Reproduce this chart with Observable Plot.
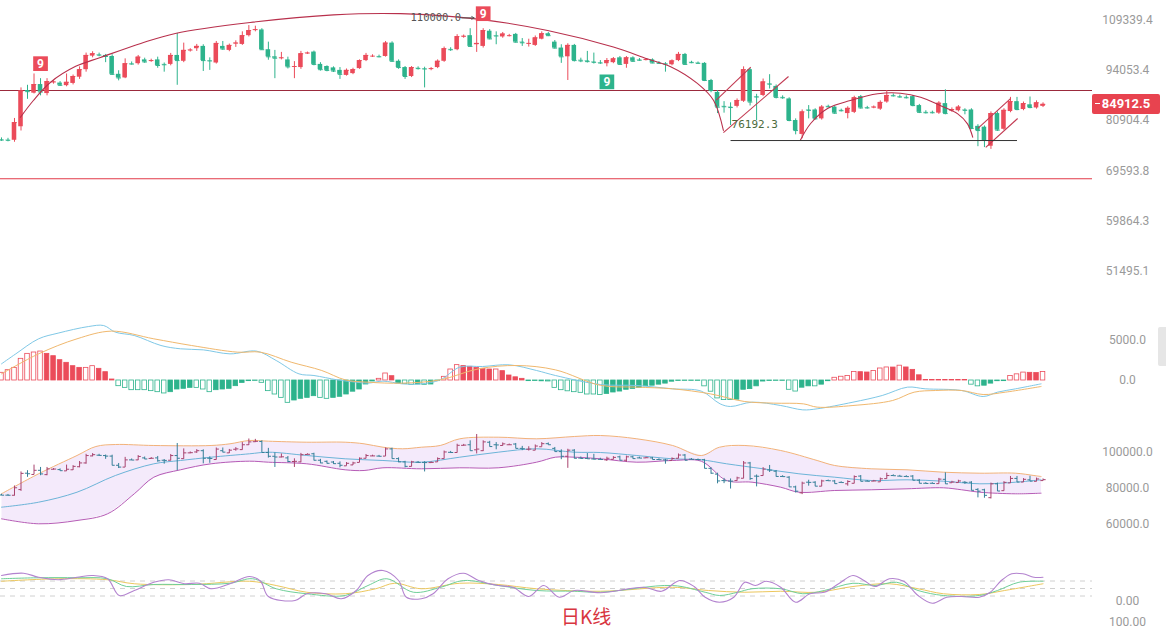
<!DOCTYPE html>
<html><head><meta charset="utf-8">
<script src="https://cdn.jsdelivr.net/npm/d3@7"></script>
<script src="https://cdn.jsdelivr.net/npm/@observablehq/plot@0.6"></script>
<style>
body{margin:0;background:#fff;}
#wrap{position:relative;width:1166px;height:636px;overflow:hidden;background:#fff;font-family:Roboto,"Noto Sans",sans-serif;}
.panel{position:absolute;left:0;}
#badge{position:absolute;left:1092px;width:68px;height:20px;background:#e8434f;color:#fff;font:bold 13px Roboto,sans-serif;line-height:20px;text-align:center;border-radius:2px;}
#badge span.d{position:absolute;left:3px;top:9px;width:5px;height:1.5px;background:#fff;}
#title{position:absolute;left:561px;top:602px;font:19px "Noto Sans CJK SC",sans-serif;color:#d8363f;}
#tab{position:absolute;left:1158px;top:327px;width:8px;height:39px;background:#e6e6e6;border-radius:2px 0 0 2px;}
</style></head><body><div id="wrap"></div>
<script>
// ===== Candles (daily) =====
const opens=[76400,76300,76250,79400,88500,87800,90100,87700,90700,90500,
89800,90400,92100,94200,98100,98500,98300,98000,92900,91900,
95900,95900,97000,96700,97000,95700,95700,98300,96600,99800,
100300,101000,96800,96100,101000,99800,101800,101600,104300,106000,
106100,100000,97900,97500,97000,95000,94800,98900,99300,95700,
95100,94700,94000,92600,93100,94500,96800,98100,98000,98000,
102000,96600,94800,92300,94600,94500,94400,94800,96600,100100,
100000,104000,104300,101500,101000,105700,104300,103900,104300,104700,
102300,101800,101300,103200,104900,102300,100500,97900,101300,96900,
96700,96400,96200,95900,96200,97600,95700,97600,97000,97000,
97000,96100,95900,95600,96800,98600,96300,96100,96000,91200,
88000,84400,84200,84400,85700,94200,86900,87200,90300,89600,
86700,86300,80900,77600,83500,83500,81300,84400,84200,83400,
82600,82900,86900,84100,84100,83700,85500,87200,86900,86700,
86900,84600,82900,82900,82700,85100,83200,83300,83500,83500,
79500,79300,74900,82600,78800,83100,85600,83600,84800,84000,84400];
const highs=[76800,76700,81400,89200,89900,93000,91700,91700,91100,90900,
93000,92700,95000,99000,99400,99000,98600,98500,93900,97300,
96400,98300,97500,97200,97800,96100,98900,105000,102000,100300,
101600,101500,97600,102500,102500,101700,102700,105500,107500,107300,
106500,102300,99800,99200,97800,96500,99500,99300,99600,96200,
95300,95000,94800,94400,94600,97000,98900,98500,98400,102500,
102400,97000,95100,95100,95000,94900,94800,97000,100800,100600,
104600,104500,106500,110000,106500,106200,105500,105300,104700,105000,
103400,103200,104200,105500,105300,102800,101500,101800,101600,97500,
99500,99000,96800,97400,97700,98000,98000,97900,97400,97400,
97300,96500,96200,97000,99200,98900,96600,96400,96200,91500,
88500,85600,85300,86300,95000,94500,87500,91600,92800,90000,
87100,86600,81300,83500,84600,83800,84600,84700,84500,83700,
84300,87000,87200,84400,84500,85800,88500,87600,87300,87100,
87200,84900,83300,83200,85600,88700,84000,84600,83800,83800,
79900,79600,83000,83000,83800,86700,86700,85500,86800,85800,85300];
const lows=[76000,75900,75800,78400,86200,87600,87100,87100,90200,89600,
89500,90000,91500,93500,97600,97900,96200,92600,91100,91700,
95500,95500,96000,96300,94600,93500,95300,89900,96200,99300,
99500,93700,94000,95800,99800,99400,100700,101300,103900,105500,
99800,96900,91700,97000,94400,91700,94300,98600,95300,93800,
93600,93400,91500,92400,92800,94300,96500,97700,97600,97800,
96300,94300,91500,92000,94100,89200,93900,94500,96300,99500,
99700,103500,100700,99200,100500,103000,101500,103500,103900,102000,
101000,100800,101000,103000,104000,100200,96000,91200,96400,96200,
96100,95800,95700,95000,95900,95400,94600,96300,96600,96700,
95900,95700,93500,95300,96500,95400,95900,95800,90900,87900,
82600,82700,79700,84000,85400,84500,80900,86900,88900,86300,
86200,80600,77500,76600,81300,81000,81000,84000,82400,83000,
81300,82600,83700,83700,83800,83400,85200,86800,86500,86300,
84300,82600,82500,82500,82400,82300,82900,83000,82300,78700,
74800,74600,74200,78300,78500,82800,83300,83300,83800,83700,84100];
const closes=[76300,76250,80400,88400,88200,90100,88100,90900,90800,89900,
90700,92300,94200,98300,98800,98400,98000,92900,91900,95900,
95800,97800,96400,96800,95400,95600,98300,96800,99800,99900,
101000,96800,96700,101900,100200,101300,102000,104300,105900,106200,
100000,97900,97500,97600,95000,95100,98800,99000,95700,94200,
94000,93800,92900,94000,94200,96800,98300,98100,97900,102000,
96600,94800,92300,94800,94500,94400,94500,96600,100300,100000,
104000,104100,101000,101900,105900,103300,104200,104800,104300,102300,
102100,101900,103600,104900,104300,100500,97900,101300,96800,96700,
96500,96300,96100,96800,97300,95700,97600,96600,96900,97100,
96100,96000,95800,96700,98600,95700,96200,96000,91200,88500,
84200,84300,84100,85900,94200,85500,86800,90800,90200,86700,
86600,80900,78500,83000,83400,81300,84200,84300,82700,83300,
83900,86600,84000,84000,84200,85400,87200,87100,86800,86600,
84600,82900,82800,82800,85200,82600,83600,84200,83400,79000,
78500,76200,82600,78600,83400,85600,83600,85100,84100,85300,84912.5];

// main axis ticks
const mainTicks=[109339.4,94053.4,80904.4,69593.8,59864.3,51495.1];
// horizontal reference lines (price)
const topLinePrice=88510, lowLinePrice=67950;
// support line & label
const supportPrice=76192.3, supportFrom=112, supportTo=156;
// high marker
const highIdx=73, highLabel=110000.0;
// TD "9" badges
const redNineIdx=[6,74], greenNineIdx=[93];
// big arc (index, price)
const arc1I=[2.9,4.9,7.5,11.4,15.2,21.4,26.7,38.2,51.0,61.3,73.6,83.9,94.0,99.2,102.8,106.9,109.4,110.9];
const arc1P=[81650,85900,90660,95140,97700,101900,105000,108490,111000,111400,109500,105930,100800,97330,95050,90400,85900,78520];
const arc2I=[122.7,124.3,126.9,130.4,134.6,138.1,141.2,144.2,146.9,148.4,149.2];
const arc2P=[76200,80180,83870,85900,87640,87800,86760,84620,82530,80100,76960];
// channel segments [i1,p1,i2,p2]
const chanI1=[109.8,110.9,150.0,151.2], chanP1=[86000,78000,79000,74630];
const chanI2=[115.1,120.9,155.0,156.1], chanP2=[94900,92300,86400,81390];

// ===== MACD =====
const macdHist=[960,1290,1580,2710,3330,3500,3620,3330,3040,2540,
2210,1790,1580,1580,1790,1460,1040,125,-710,-920,
-1210,-1210,-1210,-1330,-1460,-1620,-1460,-1125,-1040,-920,
-920,-1125,-1460,-1210,-1125,-1040,-710,-300,-80,-40,
-290,-1330,-1750,-2170,-2790,-2500,-2290,-2170,-1960,-2170,
-2290,-2170,-2040,-1750,-1400,-1125,-500,-125,210,875,
540,-375,-450,-540,-500,-540,-500,-80,460,1375,
1920,1800,1710,1580,1460,1375,1375,1170,625,400,
210,-80,-60,-100,-120,-920,-1210,-1350,-1460,-1540,
-1750,-1750,-1810,-1680,-1500,-1380,-1160,-1050,-950,-730,
-650,-520,-390,-150,-60,-60,-60,-60,-730,-1400,
-2240,-2450,-2450,-2400,-1160,-1075,-730,-130,-60,-60,
-60,-1160,-1380,-900,-730,-730,-520,-90,340,470,
560,1075,1040,1000,1200,1500,1630,1620,1850,1630,
1330,650,60,60,60,60,60,60,60,-520,
-730,-650,-390,-90,-80,560,770,990,960,930,1075];
const difI=[0,2.2,5.7,8.7,13.4,15.7,17.5,20.4,24.5,27.5,31,35.1,39.2,42.2,45.7,48,51.6,54.5,56.3,58.6,61.6,64.5,67.4,70.4,73.9,78,82.2,85.1,92,97.6,103.1,107.5,110.4,112,115.3,119.7,123.1,125.3,130.8,135.3,139.2,141.9,147.5,150.8,153,155.8,159.7];
const difV=[2080,3330,5210,5920,6750,6870,6040,5625,4375,3960,3830,3330,3670,2500,830,625,80,-210,-330,-80,-420,-420,80,1670,1750,1960,1250,625,-500,-625,-1040,-1330,-2920,-3250,-2710,-3125,-3670,-3540,-2710,-1875,-830,-1040,-1250,-2000,-1460,-1040,-420];
const deaI=[0,5.7,11.6,16.9,23.4,29.2,36.3,39.8,44.5,49.2,52.8,56.3,61.6,67.4,73.3,79.2,85.1,92,97.6,103.1,108.9,114.1,118.6,123.2,125.3,130.8,136.9,140.2,143.5,147.5,150.8,154.2,159.7];
const deaV=[830,3330,5210,6170,5210,4375,3540,3540,2290,1250,80,-210,-330,80,1460,1875,1330,-600,-830,-1040,-1670,-2620,-2830,-2920,-3330,-3125,-2500,-1460,-1250,-1250,-1750,-1460,-750];
const macdTicks=[5000,0];

// ===== Bollinger =====
const upI=[0,5.7,11.6,14.5,17.5,23.4,32.2,35.1,38.1,41,46.9,52.8,55.7,58.6,61.6,64.5,67.4,70.4,76.3,82.2,88,92,97.6,103.1,107.5,110.3,114.2,119.7,125.3,128,133.6,139.1,144.7,150.3,155.8,158.6,159.7];
const upV=[77050,88170,98330,103330,104440,103890,103890,104830,106670,106280,105720,105720,104830,102940,102060,102940,103890,107610,108500,107610,108890,109440,107610,103890,98330,102940,103890,101110,95560,92780,90940,90390,89050,88500,88500,87220,86670];
const midI=[0,5.7,11.6,17.5,23.4,27.5,32.2,38.1,41,46.9,52.8,58.6,64.5,70.4,76.3,82.2,88,92,97.6,103.1,107.5,111.4,117,122.5,128,133.6,139.1,144.7,150.3,155.8,159.7];
const midV=[69610,72390,77940,87220,93720,95560,97390,99280,100170,98330,96500,95560,94610,97390,100170,102060,100170,100000,98330,96500,95940,93720,90940,88170,86280,84440,84830,84050,82610,83500,84830];
const lowI=[0,5.7,11.6,16.3,20.4,23.4,27.5,32.2,38.1,41,46.9,52.8,55.7,58.6,64.5,70.4,76.3,82.2,85.1,88,92,97.6,103.1,107.5,111.4,115.3,119.7,122.5,128,133.6,139.1,144.7,147.5,150.3,155.8,159.7];
const lowV=[63160,60390,62220,65940,77050,86280,90390,93720,95170,94610,93720,90390,90000,91500,90940,91500,91500,94610,97390,97390,96500,94610,95560,95170,84440,83500,80720,77940,78890,79280,79830,80390,79280,77940,77050,77390];
const bollTicks=[100000,80000,60000];

// ===== KDJ =====
const kI=[0,5.7,11.6,16.3,19.2,23.4,29.2,35.1,38.6,42.2,46.9,52.8,56.3,59.2,63.3,67.5,71,76.3,82.2,88,92,103.1,108.1,110.3,113.1,115.3,119.7,123.1,126.4,130.8,134.2,137.5,140.8,144.7,150.2,153,156.3,160];
const kV=[89,93,93,89,58,66,66,71,89,49,29,22,62,89,35,55,82,62,42,39,35,62,35,22,35,49,49,29,42,71,62,75,42,22,22,42,75,79];
const dI=[0,8.7,16.3,20.4,29.2,38.1,42.2,46.9,52.8,57.5,60.4,64.5,70.4,76.3,82.2,92,103.1,108.6,114.2,119.7,125.3,130.8,136.4,140.8,144.7,150.2,154.1,160];
const dV=[79,89,85,69,66,79,62,35,29,49,71,49,71,66,49,39,55,42,35,39,35,58,69,49,29,26,42,69];
const jI=[0,3.4,5.7,8.7,11.6,14,16.3,18.1,20.4,23.4,25.7,28.1,30.4,32.2,35.1,38.1,39.8,41,45.1,46.9,49.8,52.2,54.5,56.3,58.6,61,62.2,64.5,66.3,68.6,71,73.3,76.3,78.6,81,83.3,85.7,88,92,98.7,101.4,104.2,106.4,108.1,110.3,112.5,114.2,115.8,117.5,119.7,122,124.2,126.4,128.6,130.8,132.5,134.2,136.4,138.6,140.8,143,145.2,147.5,150.2,151.9,153.6,155.2,156.9,158.6,160];
const jV=[102,111,95,85,95,102,89,22,42,75,85,69,71,49,69,98,79,18,2,29,29,9,42,102,122,82,15,9,29,89,111,82,62,55,18,62,15,42,33,55,39,82,58,15,-5,15,75,62,79,55,-5,29,35,69,102,82,58,89,79,22,-9,15,18,15,35,82,109,109,95,95];
const kdjLevels=[80,50,20];

// ===== build =====
const RED="#eb4b5a", GREEN="#2db38c";
const N=opens.length;
const candles=d3.range(N).map(i=>({i,o:opens[i],h:highs[i],l:lows[i],c:closes[i]}));
const ccol=d=>d.c>=d.o?RED:GREEN;
const pts=(I,V)=>I.map((x,k)=>({i:x,v:V[k]}));
const X={domain:[-0.15,167.6],axis:null};
const base={width:1166,marginLeft:0,marginRight:74,marginTop:0,marginBottom:0,
  style:{background:"transparent",fontFamily:"Roboto, sans-serif",fontSize:"12px",color:"#9a9a9a",overflow:"visible"},
  color:{type:"identity"}};
const axis=(ticks,fmt)=>Plot.axisY(ticks,{anchor:"right",tickSize:0,tickPadding:35,textAnchor:"middle",tickFormat:fmt,fontSize:12});
const wrap=document.getElementById("wrap");
function place(svg,top){const d=document.createElement("div");d.className="panel";d.style.top=top+"px";d.appendChild(svg);wrap.appendChild(d);}

const channels=chanI1.map((x,k)=>({x1:x,y1:chanP1[k],x2:chanI2[k],y2:chanP2[k]}));
const support=[{x1:supportFrom,x2:supportTo,p:supportPrice}];
const hi=[{i:highIdx,p:highLabel}];

const main=Plot.plot({...base,height:300,x:X,
  y:{type:"log",domain:[47195,115880],label:null},
  marks:[
    Plot.ruleY([topLinePrice],{stroke:"#9b2a3c",strokeWidth:1.1}),
    Plot.ruleY([lowLinePrice],{stroke:"#e23a48",strokeWidth:1.1}),
    Plot.ruleX(candles,{x:"i",y1:"l",y2:"h",stroke:ccol,strokeWidth:1}),
    Plot.rect(candles,{x1:d=>d.i-0.35,x2:d=>d.i+0.35,y1:"o",y2:"c",fill:ccol}),
    Plot.link(candles,{x1:d=>d.i-0.35,x2:d=>d.i+0.35,y1:"c",y2:"c",stroke:ccol}),
    Plot.line(pts(arc1I,arc1P),{x:"i",y:"v",curve:"catmull-rom",stroke:"#b8304c",strokeWidth:1.1}),
    Plot.line(pts(arc2I,arc2P),{x:"i",y:"v",curve:"catmull-rom",stroke:"#b8304c",strokeWidth:1.1}),
    Plot.link(channels,{x1:"x1",y1:"y1",x2:"x2",y2:"y2",stroke:"#c23a52",strokeWidth:1.1}),
    Plot.link(support,{x1:"x1",x2:"x2",y1:"p",y2:"p",stroke:"#333",strokeWidth:1}),
    Plot.text(support,{x:"x1",y:"p",text:d=>d.p.toFixed(1),textAnchor:"start",dy:-16,dx:1,fill:"#4d6b3c",fontFamily:"DejaVu Sans Mono",fontSize:11}),
    Plot.text(hi,{x:d=>d.i-2.4,y:"p",text:d=>d.p.toFixed(1),textAnchor:"end",fill:"#555",fontFamily:"DejaVu Sans Mono",fontSize:10.5}),
    Plot.arrow(hi,{x1:d=>d.i-2.3,x2:d=>d.i-0.4,y1:"p",y2:"p",stroke:"#555",strokeWidth:1,headLength:4}),
    Plot.dot(redNineIdx,{x:d=>d,y:d=>highs[d],dy:-15,symbol:"square",r:8.3,fill:RED}),
    Plot.text(redNineIdx,{x:d=>d,y:d=>highs[d],dy:-15,text:()=> "9",fill:"white",fontWeight:"bold",fontSize:12}),
    Plot.dot(greenNineIdx,{x:d=>d,y:d=>lows[d],dy:15,symbol:"square",r:8.3,fill:GREEN}),
    Plot.text(greenNineIdx,{x:d=>d,y:d=>lows[d],dy:15,text:()=> "9",fill:"white",fontWeight:"bold",fontSize:12}),
    axis(mainTicks,d=>d.toFixed(1))
  ]});
place(main,0);

const macd=macdHist.map((v,i)=>({i,v,hollow:i===0||Math.abs(v)>=Math.abs(macdHist[i-1])}));
const mcol=d=>d.v>=0?RED:GREEN;
const macdPlot=Plot.plot({...base,height:120,x:X,y:{domain:[-5000,10000],label:null},
  marks:[
    Plot.rect(macd,{x1:d=>d.i-0.35,x2:d=>d.i+0.35,y1:0,y2:"v",fill:d=>d.hollow?"#fff":mcol(d),stroke:mcol,strokeWidth:0.8}),
    Plot.line(pts(difI,difV),{x:"i",y:"v",curve:"catmull-rom",stroke:"#7fc8e6",strokeWidth:1}),
    Plot.line(pts(deaI,deaV),{x:"i",y:"v",curve:"catmull-rom",stroke:"#f0b86e",strokeWidth:1}),
    axis(macdTicks,d=>d.toFixed(1))
  ]});
place(macdPlot,300);

const upP=pts(upI,upV), lowP=pts(lowI,lowV);
const poly=[...upP,...lowP.slice().reverse()];
const bcol=d=>d.c>=d.o?"#a8436e":"#357f98";
const boll=Plot.plot({...base,height:120,x:X,y:{domain:[48333,115000],label:null},
  marks:[
    Plot.line(poly,{x:"i",y:"v",fill:"#f4eafb",stroke:"none",curve:"linear"}),
    Plot.line(upP,{x:"i",y:"v",curve:"catmull-rom",stroke:"#f2b27a",strokeWidth:1}),
    Plot.line(pts(midI,midV),{x:"i",y:"v",curve:"catmull-rom",stroke:"#6cb4d8",strokeWidth:1}),
    Plot.line(lowP,{x:"i",y:"v",curve:"catmull-rom",stroke:"#b65cb6",strokeWidth:1}),
    Plot.ruleX(candles,{x:"i",y1:"l",y2:"h",stroke:bcol,strokeWidth:1}),
    Plot.link(candles,{x1:d=>d.i-0.4,x2:"i",y1:"o",y2:"o",stroke:bcol}),
    Plot.link(candles,{x1:"i",x2:d=>d.i+0.4,y1:"c",y2:"c",stroke:bcol}),
    axis(bollTicks,d=>d.toFixed(1))
  ]});
place(boll,425);

const kdj=Plot.plot({...base,height:60,x:X,y:{domain:[-78,162],label:null},
  marks:[
    Plot.ruleY(kdjLevels,{stroke:"#d0d0d0",strokeDasharray:"5,5"}),
    Plot.line(pts(dI,dV),{x:"i",y:"v",curve:"catmull-rom",stroke:"#ecc75e",strokeWidth:1}),
    Plot.line(pts(kI,kV),{x:"i",y:"v",curve:"catmull-rom",stroke:"#6fcf98",strokeWidth:1}),
    Plot.line(pts(jI,jV),{x:"i",y:"v",curve:"catmull-rom",stroke:"#b383cf",strokeWidth:1.1}),
    axis([0],d=>d.toFixed(2))
  ]});
place(kdj,560);

const extra=Plot.plot({...base,height:24,marginTop:10,x:X,y:{domain:[0,100],label:null},
  marks:[axis([100],d=>d.toFixed(2))]});
place(extra,612);

// last price badge
const yy=main.scale("y").apply(closes[N-1]);
const b=document.createElement("div");b.id="badge";b.style.top=(yy-10)+"px";
b.innerHTML='<span class="d"></span>'+closes[N-1].toFixed(1);wrap.appendChild(b);
const t=document.createElement("div");t.id="title";t.textContent="日K线";wrap.appendChild(t);
const tab=document.createElement("div");tab.id="tab";wrap.appendChild(tab);
</script></body></html>
